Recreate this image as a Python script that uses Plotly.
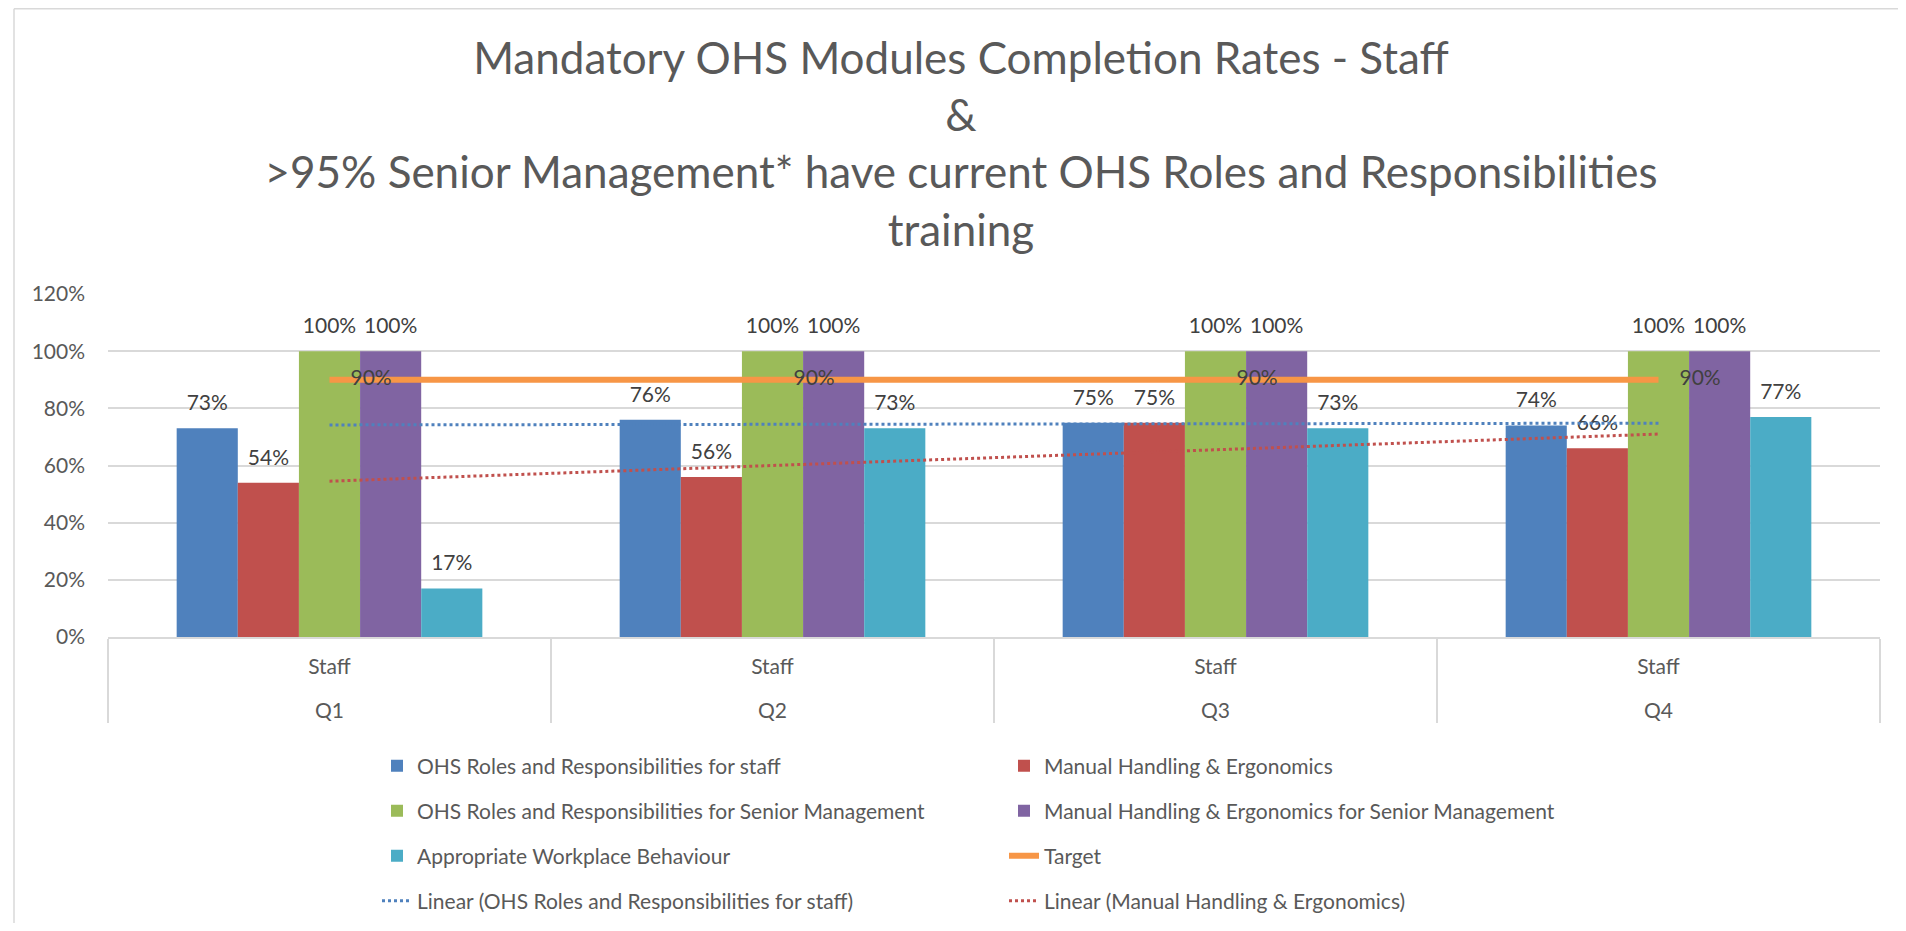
import numpy as np
import plotly.graph_objects as go

# data
quarters = ["Q1", "Q2", "Q3", "Q4"]
group = ["Staff", "Staff", "Staff", "Staff"]
ohs_staff = [0.73, 0.76, 0.75, 0.74]
manual_handling = [0.54, 0.56, 0.75, 0.66]
ohs_senior = [1.00, 1.00, 1.00, 1.00]
manual_senior = [1.00, 1.00, 1.00, 1.00]
workplace_behaviour = [0.17, 0.73, 0.73, 0.77]
target = [0.90, 0.90, 0.90, 0.90]

# page body has an 8px margin all round, so keep the figure inside the window
W, H = 1890, 915
L, R, T, B = 100, 18, 286, 286  # plot area 100..1872 x 286..629
PW, PH = W - L - R, H - T - B
Y_MAX = 1.2
LABEL_GAP = 11 / PH * Y_MAX  # Excel puts value labels a bit higher above the bars

TEXT = "#595959"
LABEL = "#404040"
BORDER = "#D9D9D9"
FONT = "Lato"


def px_x(px):
    return (px - L) / PW


def px_y(py):
    return (H - B - py) / PH


def linear_trend(values):
    xs = np.arange(1, len(values) + 1)
    slope, icpt = np.polyfit(xs, values, 1)
    return list(slope * xs + icpt)


# blank first line pushes the quarter row down like Excel's category layout
x = [["<br>" + q for q in quarters], group]

bars = [
    ("OHS Roles and Responsibilities for staff", ohs_staff, "#4F81BD", "legend"),
    ("Manual Handling & Ergonomics", manual_handling, "#C0504D", "legend"),
    ("OHS Roles and Responsibilities for Senior Management", ohs_senior, "#9BBB59", "legend2"),
    ("Manual Handling & Ergonomics for Senior Management", manual_senior, "#8064A2", "legend2"),
    ("Appropriate Workplace Behaviour", workplace_behaviour, "#4BACC6", "legend3"),
]

fig = go.Figure()
for i, (name, vals, color, leg) in enumerate(bars):
    fig.add_trace(go.Bar(
        x=x, y=vals, name=name, legend=leg, offsetgroup=f"g{i}",
        marker=dict(color=color, line=dict(width=0)),
    ))

# value labels: transparent bars sitting on top of each bar, same offset group
for i, (name, vals, color, leg) in enumerate(bars):
    fig.add_trace(go.Bar(
        x=x, y=[LABEL_GAP] * len(vals), base=vals, offsetgroup=f"g{i}",
        showlegend=False, hoverinfo="skip",
        marker=dict(color="rgba(0,0,0,0)", line=dict(width=0)),
        text=vals, texttemplate="%{text:.0%}", textposition="outside",
        textfont=dict(family=FONT, size=21, color=LABEL), cliponaxis=False,
    ))

fig.add_trace(go.Scatter(
    x=x, y=target, name="Target", legend="legend3",
    mode="lines+markers+text", line=dict(color="#F79646", width=6),
    marker=dict(size=32, color="rgba(0,0,0,0)"),
    text=target, texttemplate="%{y:.0%}", textposition="middle right",
    textfont=dict(family=FONT, size=21, color=LABEL),
))
fig.add_trace(go.Scatter(
    x=x, y=linear_trend(ohs_staff), name="Linear (OHS Roles and Responsibilities for staff)",
    legend="legend4", mode="lines", line=dict(color="#4F81BD", width=3, dash="dot"),
))
fig.add_trace(go.Scatter(
    x=x, y=linear_trend(manual_handling), name="Linear (Manual Handling & Ergonomics)",
    legend="legend4", mode="lines", line=dict(color="#C0504D", width=3, dash="dot"),
))

legend_style = dict(
    orientation="h", xanchor="left", yanchor="middle", x=px_x(369),
    entrywidth=582, entrywidthmode="pixels", bgcolor="rgba(0,0,0,0)",
    font=dict(family=FONT, size=21, color=TEXT),
)

fig.update_layout(
    width=W, height=H,
    margin=dict(l=L, r=R, t=T, b=B, autoexpand=False),
    paper_bgcolor="white", plot_bgcolor="white",
    font=dict(family=FONT, color=TEXT),
    barmode="group", bargap=0.31, bargroupgap=0,
    title=dict(
        text="Mandatory OHS Modules Completion Rates - Staff<br>&<br>"
             ">95% Senior Management* have current OHS Roles and Responsibilities<br>training",
        x=953 / W, xanchor="center", y=1 - 66 / H, yanchor="top", yref="container",
        font=dict(family=FONT, size=44, color=TEXT),
    ),
    yaxis=dict(
        range=[0, Y_MAX], dtick=0.2, tickformat=".0%",
        gridcolor=BORDER, gridwidth=1.5, zeroline=False, showline=False,
        tickfont=dict(family=FONT, size=21, color=TEXT), ticklabelstandoff=22,
    ),
    xaxis=dict(
        type="multicategory", showline=True, linecolor=BORDER, linewidth=1.5,
        showdividers=True, dividercolor=BORDER, dividerwidth=1.5,
        tickfont=dict(family=FONT, size=21, color=TEXT), showgrid=False,
        ticklabelstandoff=10,
    ),
    legend=dict(legend_style, y=px_y(758)),
    legend2=dict(legend_style, y=px_y(803)),
    legend3=dict(legend_style, y=px_y(848)),
    legend4=dict(legend_style, y=px_y(893)),
    # chart-area frame: only its top and left edges are in view
    shapes=[
        dict(type="line", xref="paper", yref="paper",
             x0=px_x(6), x1=px_x(W), y0=px_y(0.75), y1=px_y(0.75),
             line=dict(color=BORDER, width=1.5), layer="below"),
        dict(type="line", xref="paper", yref="paper",
             x0=px_x(6), x1=px_x(6), y0=px_y(0.75), y1=px_y(H),
             line=dict(color=BORDER, width=1.5), layer="below"),
    ],
)

fig.write_html("out.html")
